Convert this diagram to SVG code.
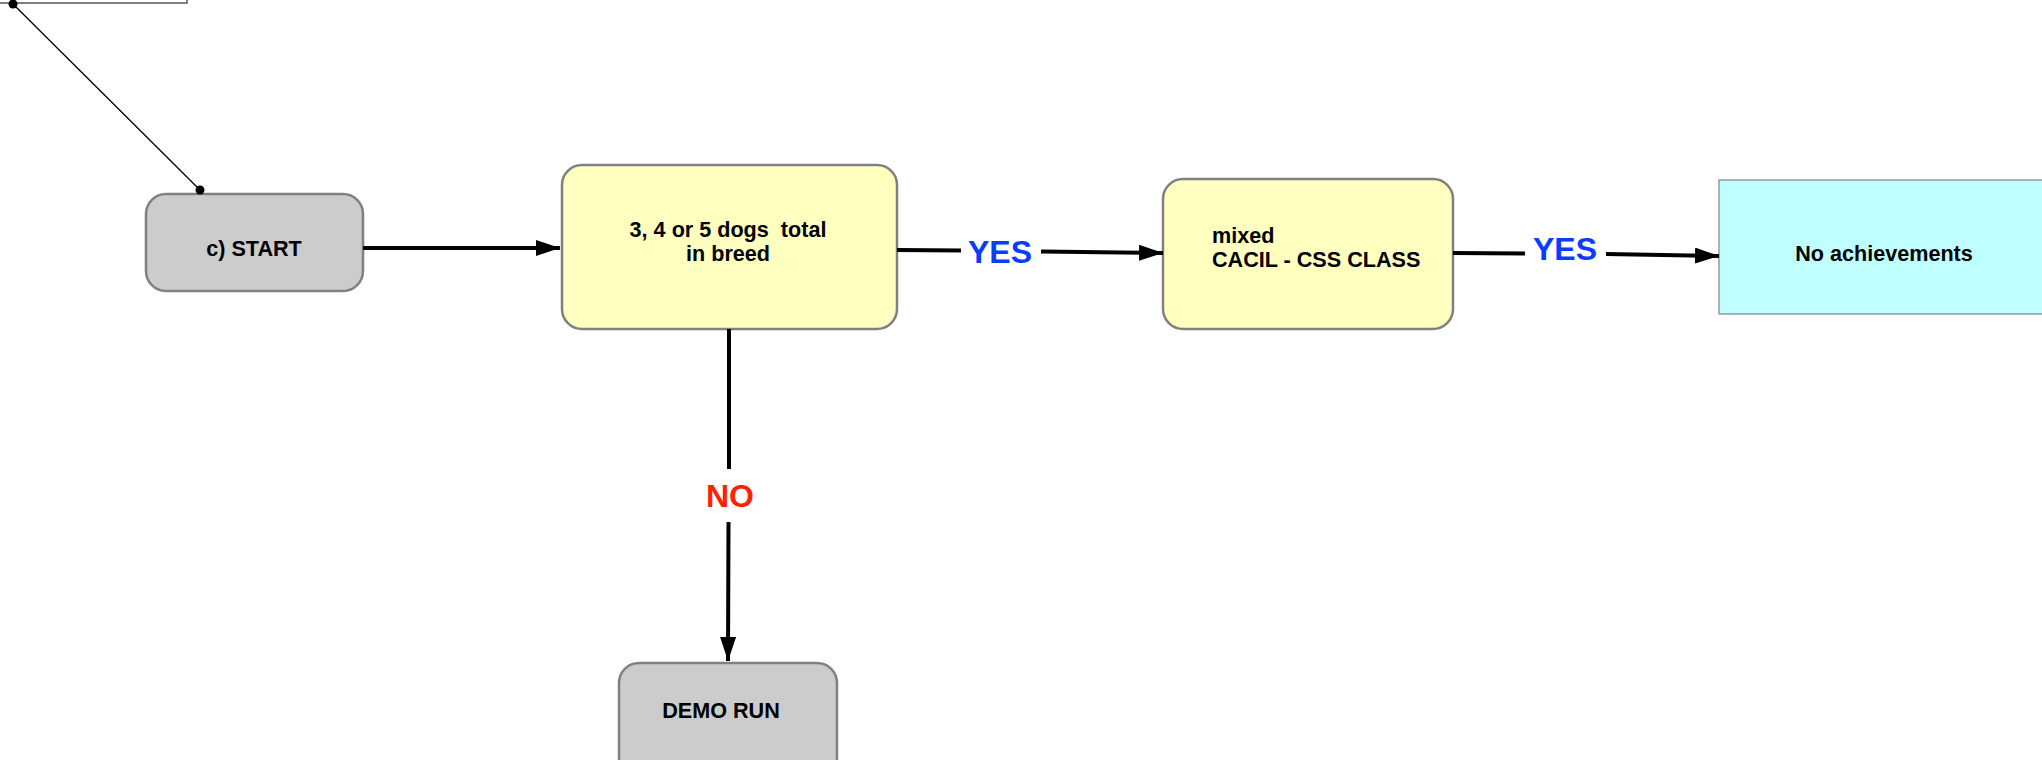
<svg xmlns="http://www.w3.org/2000/svg" width="2042" height="760" viewBox="0 0 2042 760">
<style>
.txt{font-family:"Liberation Sans",Arial,sans-serif;font-weight:bold;font-size:21.6px;fill:#000}
.lbl{font-family:"Liberation Sans",Arial,sans-serif;font-weight:bold;font-size:32px}
.gray{fill:#cccccc;stroke:#808080;stroke-width:2.5}
.yel{fill:#ffffc0;stroke:#808080;stroke-width:2.5}
.edge{stroke:#000;stroke-width:4;fill:none}
</style>
<defs>
<marker id="arr" markerWidth="6" markerHeight="4" refX="6" refY="2" orient="auto" markerUnits="strokeWidth">
<path d="M0,0 L6,2 L0,4 Z" fill="#000"/>
</marker>
</defs>
<rect width="2042" height="760" fill="#fff"/>
<g id="note">
<rect x="-20" y="-40" width="207" height="43" fill="#fff" stroke="#555" stroke-width="1.5"/>
</g>
<g id="start">
<rect class="gray" x="146" y="194" width="217" height="97" rx="20"/>
<text class="txt" x="254" y="256" text-anchor="middle">c) START</text>
</g>
<g id="dogs">
<rect class="yel" x="562" y="165" width="335" height="164" rx="20"/>
<text class="txt" x="728" y="237" text-anchor="middle" xml:space="preserve">3, 4 or 5 dogs  total</text>
<text class="txt" x="728" y="261" text-anchor="middle">in breed</text>
</g>
<g id="mixed">
<rect class="yel" x="1163" y="179" width="290" height="150" rx="20"/>
<text class="txt" x="1212" y="243">mixed</text>
<text class="txt" x="1212" y="267">CACIL - CSS CLASS</text>
</g>
<g id="noach">
<rect x="1719" y="180" width="340" height="134" fill="#c0ffff" stroke="#999" stroke-width="1.5"/>
<text class="txt" x="1884" y="261" text-anchor="middle">No achievements</text>
</g>
<g id="demo">
<rect class="gray" x="619" y="663" width="218" height="120" rx="20"/>
<text class="txt" x="721" y="718" text-anchor="middle">DEMO RUN</text>
</g>
<g id="connectors">
<line x1="13" y1="4" x2="200" y2="190" stroke="#000" stroke-width="1.3"/>
<circle cx="13" cy="4" r="4.5" fill="#000"/>
<circle cx="200" cy="190" r="4.5" fill="#000"/>
<line class="edge" x1="363" y1="248" x2="560" y2="248" marker-end="url(#arr)"/>
<path class="edge" d="M897,250 L961,250.5 M1041,251.5 L1163,253" marker-end="url(#arr)"/>
<text class="lbl" x="1000" y="263" text-anchor="middle" fill="#0a3cff">YES</text>
<path class="edge" d="M1453,253 L1525,253.5 M1606,254 L1719,256" marker-end="url(#arr)"/>
<text class="lbl" x="1565" y="260" text-anchor="middle" fill="#0a3cff">YES</text>
<path class="edge" d="M729,329 L729,469 M728.5,522 L728,661" marker-end="url(#arr)"/>
<text class="lbl" x="730" y="507" text-anchor="middle" fill="#ff2200">NO</text>
</g>
</svg>
